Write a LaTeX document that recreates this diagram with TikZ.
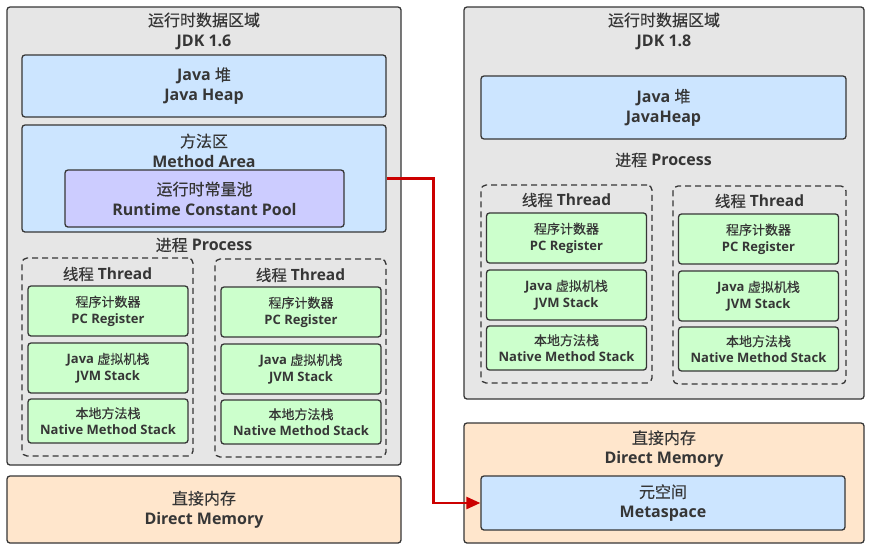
\documentclass[tikz,border=0pt]{standalone}
\usepackage{fontspec}
\setmainfont{Open Sans}
\newfontfamily\cjk[FakeBold=0.4]{Noto Sans CJK SC}
\newcommand{\zh}[1]{{\cjk\mdseries #1}}
\usetikzlibrary{arrows.meta}
\definecolor{edgegray}{HTML}{363636}
\definecolor{areagray}{HTML}{E6E6E6}
\definecolor{heapblue}{HTML}{CCE5FF}
\definecolor{poolpurple}{HTML}{CCCCFF}
\definecolor{cellgreen}{HTML}{CCFFCC}
\definecolor{memorange}{HTML}{FFE6CC}
\definecolor{movered}{HTML}{CC0000}
\tikzset{
  jvmbox/.style={draw=edgegray, line width=1.3pt, rounded corners=3pt, inner sep=0pt},
  jvmregion/.style={jvmbox, fill=areagray},
  jvmheap/.style={jvmbox, fill=heapblue},
  jvmpool/.style={jvmbox, fill=poolpurple},
  jvmmem/.style={jvmbox, fill=memorange},
  jvmcell/.style={jvmbox, fill=cellgreen, minimum width=160pt, font=\fontsize{13}{16.5}\selectfont\bfseries, align=center},
  jvmthread/.style={draw=edgegray, line width=1.3pt, dash pattern=on 6pt off 4pt, rounded corners=5pt, minimum width=171pt, minimum height=198pt},
  caption/.style={font=\fontsize{16}{20}\selectfont\bfseries, text=edgegray, align=center},
  threadcaption/.style={font=\fontsize{15.5}{20}\selectfont\bfseries, text=edgegray},
  moveedge/.style={-{Triangle[length=14pt,width=12pt]}, line width=2.5pt, draw=movered}
}
\begin{document}
\begin{tikzpicture}[x=1pt, y=-1pt, text=edgegray]
  \useasboundingbox (0,0) rectangle (872,549);

  % JDK 1.6
  \node[jvmregion, minimum width=394pt, minimum height=458pt] (rt6) at (204,236) {};
  \node[caption] (rt6t) at (204,31) {\zh{运行时数据区域}\\JDK 1.6};
  \node[jvmheap, caption, minimum width=364pt, minimum height=62pt] (heap6) at (204,86) {Java \zh{堆}\\Java Heap};
  \node[jvmheap, minimum width=364pt, minimum height=107pt] (ma6) at (204,178.5) {};
  \node[caption] (ma6t) at (204,150.5) {\zh{方法区}\\Method Area};
  \node[jvmpool, caption, minimum width=279pt, minimum height=57pt] (pool6) at (204.5,198.5) {\zh{运行时常量池}\\Runtime Constant Pool};
  \node[caption] (proc6) at (204,245) {\zh{进程} Process};

  \node[jvmthread] (th6a) at (107.5,357) {};
  \node[threadcaption] (th6at) at (107.5,274) {\zh{线程} Thread};
  \node[jvmcell, minimum height=50pt] (pc6a) at (108,311) {\zh{程序计数器}\\PC Register};
  \node[jvmcell, minimum height=50pt] (vm6a) at (108,368) {Java \zh{虚拟机栈}\\JVM Stack};
  \node[jvmcell, minimum height=44pt] (ns6a) at (108,421) {\zh{本地方法栈}\\Native Method Stack};

  \node[jvmthread] (th6b) at (300.5,358) {};
  \node[threadcaption] (th6bt) at (300.5,275) {\zh{线程} Thread};
  \node[jvmcell, minimum height=50pt] (pc6b) at (301,312) {\zh{程序计数器}\\PC Register};
  \node[jvmcell, minimum height=50pt] (vm6b) at (301,369) {Java \zh{虚拟机栈}\\JVM Stack};
  \node[jvmcell, minimum height=44pt] (ns6b) at (301,422) {\zh{本地方法栈}\\Native Method Stack};

  \node[jvmmem, caption, minimum width=394pt, minimum height=67pt] (dm6) at (204,509.5) {\zh{直接内存}\\Direct Memory};

  % JDK 1.8
  \node[jvmregion, minimum width=400pt, minimum height=392pt] (rt8) at (664,203) {};
  \node[caption] (rt8t) at (664,31) {\zh{运行时数据区域}\\JDK 1.8};
  \node[jvmheap, caption, minimum width=365pt, minimum height=63pt] (heap8) at (663.5,107.5) {Java \zh{堆}\\JavaHeap};
  \node[caption] (proc8) at (663.5,160) {\zh{进程} Process};

  \node[jvmthread] (th8a) at (566.5,284) {};
  \node[threadcaption] (th8at) at (566.5,200) {\zh{线程} Thread};
  \node[jvmcell, minimum height=50pt] (pc8a) at (566.5,238) {\zh{程序计数器}\\PC Register};
  \node[jvmcell, minimum height=50pt] (vm8a) at (566.5,295) {Java \zh{虚拟机栈}\\JVM Stack};
  \node[jvmcell, minimum height=44pt] (ns8a) at (566.5,348) {\zh{本地方法栈}\\Native Method Stack};

  \node[jvmthread, minimum width=173pt] (th8b) at (759.5,285) {};
  \node[threadcaption] (th8bt) at (759.5,201) {\zh{线程} Thread};
  \node[jvmcell, minimum height=50pt] (pc8b) at (758.5,239) {\zh{程序计数器}\\PC Register};
  \node[jvmcell, minimum height=50pt] (vm8b) at (758.5,296) {Java \zh{虚拟机栈}\\JVM Stack};
  \node[jvmcell, minimum height=44pt] (ns8b) at (758.5,349) {\zh{本地方法栈}\\Native Method Stack};

  \node[jvmmem, minimum width=400pt, minimum height=120pt] (dm8) at (664,483) {};
  \node[caption] (dm8t) at (664,449) {\zh{直接内存}\\Direct Memory};
  \node[jvmheap, caption, minimum width=364pt, minimum height=54pt] (meta8) at (663,503) {\zh{元空间}\\Metaspace};

  % method area moves out to metaspace
  \draw[moveedge] (ma6.east) -- ++(47,0) |- (meta8.west);
\end{tikzpicture}
\end{document}
